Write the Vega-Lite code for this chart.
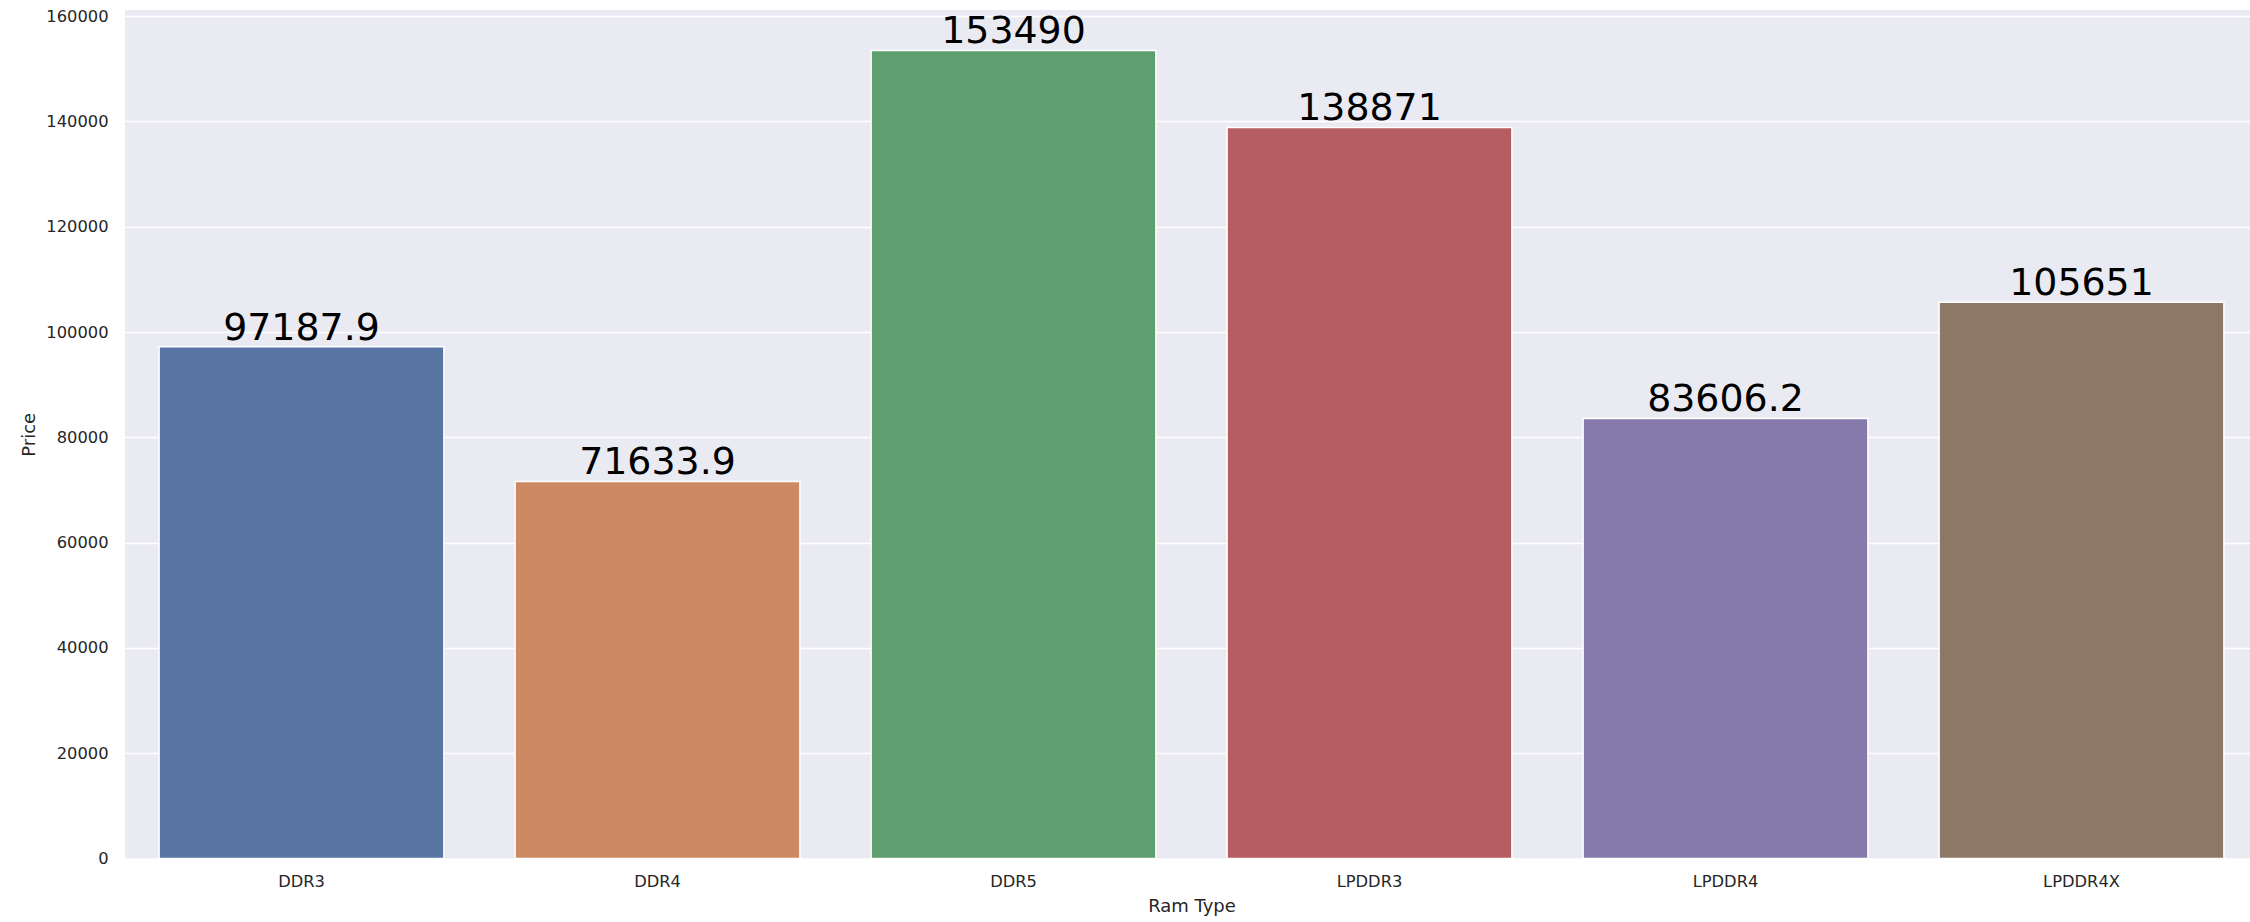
{"$schema":"https://vega.github.io/schema/vega-lite/v6.json","width":2125,"height":848.6,"autosize":{"type":"none"},"padding":{"left":125,"top":10,"right":0,"bottom":63.4},"background":"#ffffff","config":{"view":{"fill":"#eaeaf2","stroke":null},"font":"DejaVu Sans"},"data":{"values":[{"ram":"DDR3","price":97187.9},{"ram":"DDR4","price":71633.9},{"ram":"DDR5","price":153490},{"ram":"LPDDR3","price":138871},{"ram":"LPDDR4","price":83606.2},{"ram":"LPDDR4X","price":105651}]},"encoding":{"x":{"field":"ram","type":"nominal","sort":null,"scale":{"range":[-1.5,2134.5],"paddingInner":0.2,"paddingOuter":0.1},"axis":{"title":"Ram Type","titleFont":"DejaVu Sans","titleFontSize":18,"titleFontWeight":"normal","titleColor":"#262626","titlePadding":8,"labelFont":"DejaVu Sans","labelFontSize":16.3,"labelColor":"#262626","labelAngle":0,"labelPadding":15,"ticks":false,"domain":false,"grid":false}},"y":{"field":"price","type":"quantitative","scale":{"domain":[0,161164],"nice":false,"zero":true},"axis":{"title":"Price","titleFont":"DejaVu Sans","titleFontSize":18,"titleFontWeight":"normal","titleColor":"#262626","titlePadding":7,"values":[0,20000,40000,60000,80000,100000,120000,140000,160000],"format":"d","labelFont":"DejaVu Sans","labelFontSize":16.3,"labelColor":"#262626","labelPadding":17,"ticks":false,"domain":false,"grid":true,"gridColor":"#ffffff","gridWidth":1.6}}},"layer":[{"mark":{"type":"bar","stroke":"#ffffff","strokeWidth":1.5},"encoding":{"color":{"field":"ram","type":"nominal","sort":null,"legend":null,"scale":{"range":["#5975a4","#cc8963","#5f9e6e","#b55d60","#857aab","#8d7866"]}}}},{"mark":{"type":"text","baseline":"alphabetic","align":"center","dy":-7,"fontSize":37.9,"font":"DejaVu Sans","color":"#000000"},"encoding":{"text":{"field":"price","type":"nominal"}}}]}
